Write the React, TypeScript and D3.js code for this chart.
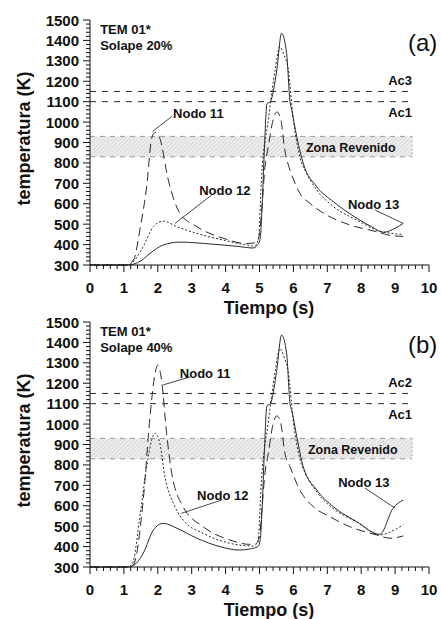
import React from "react";
import * as d3 from "d3";

// ---------- data ----------
const xTickValues = [0, 1, 2, 3, 4, 5, 6, 7, 8, 9, 10];
const yTickValues = [300, 400, 500, 600, 700, 800, 900, 1000, 1100, 1200, 1300, 1400, 1500];

// Panel (a) – Solape 20%
const tA11 = [0, 1.1, 1.3, 1.47, 1.67, 1.82, 1.92, 2.06, 2.31, 2.65, 3.15, 3.93, 4.62, 4.9, 5.0, 5.08, 5.15, 5.26, 5.4, 5.51, 5.62, 5.75, 5.9, 6.0, 6.19, 6.49, 6.98, 7.67, 8.46, 8.85, 9.24];
const vA11 = [300, 300, 330, 471, 683, 920, 950, 920, 716, 554, 488, 431, 405, 410, 450, 600, 760, 880, 1010, 1050, 1020, 860, 765, 720, 651, 602, 545, 496, 463, 445, 440];

const tA12 = [0, 1.1, 1.3, 1.57, 1.87, 2.16, 2.56, 3.15, 3.93, 4.62, 4.85, 4.97, 5.06, 5.26, 5.46, 5.6, 5.72, 5.85, 6.0, 6.19, 6.39, 6.69, 7.18, 7.87, 8.55, 9.24];
const vA12 = [300, 300, 320, 390, 488, 515, 488, 455, 422, 398, 392, 430, 732, 1010, 1255, 1369, 1330, 1255, 1010, 830, 749, 667, 586, 520, 466, 450];

const tA13 = [0, 1.1, 1.3, 1.5, 1.77, 2.16, 2.65, 3.54, 4.42, 4.8, 4.95, 5.02, 5.08, 5.14, 5.22, 5.32, 5.51, 5.65, 5.8, 5.9, 5.95, 6.1, 6.29, 6.69, 7.18, 7.87, 8.3, 8.65, 9.0, 9.24];
const vA13 = [300, 300, 305, 320, 357, 398, 412, 403, 390, 383, 400, 430, 600, 850, 1090, 1100, 1255, 1435, 1337, 1100, 1060, 928, 798, 683, 610, 529, 488, 460, 480, 504];

// Panel (b) – Solape 40%
const tB11 = [0, 1.15, 1.28, 1.57, 1.77, 1.92, 2.0, 2.11, 2.26, 2.41, 2.75, 3.34, 4.13, 4.7, 4.9, 5.0, 5.08, 5.15, 5.26, 5.4, 5.51, 5.62, 5.75, 5.9, 6.19, 6.59, 7.08, 7.67, 8.46, 8.85, 9.24];
const vB11 = [300, 300, 310, 628, 1036, 1249, 1289, 1216, 955, 759, 595, 497, 432, 411, 415, 450, 600, 742, 857, 1000, 1040, 1010, 857, 791, 677, 595, 546, 497, 457, 441, 452];

const tB12 = [0, 1.1, 1.25, 1.47, 1.67, 1.82, 1.92, 2.06, 2.21, 2.46, 2.75, 3.34, 4.13, 4.8, 4.95, 5.06, 5.26, 5.46, 5.6, 5.72, 5.85, 6.0, 6.19, 6.39, 6.69, 7.18, 7.87, 8.55, 8.9, 9.24];
const vB12 = [300, 300, 315, 546, 791, 922, 955, 906, 742, 612, 530, 465, 416, 403, 420, 732, 1010, 1255, 1370, 1330, 1255, 1010, 830, 749, 667, 586, 520, 457, 475, 506];

const tB13 = [0, 1.1, 1.3, 1.57, 1.87, 2.16, 2.56, 3.15, 3.83, 4.42, 4.7, 4.95, 5.02, 5.08, 5.14, 5.22, 5.32, 5.51, 5.65, 5.8, 5.9, 5.95, 6.1, 6.29, 6.69, 7.18, 7.87, 8.55, 8.94, 9.24];
const vB13 = [300, 300, 310, 367, 481, 514, 490, 441, 400, 383, 388, 400, 430, 600, 850, 1090, 1100, 1265, 1436, 1347, 1100, 1069, 938, 791, 677, 595, 522, 460, 588, 628];

// reference levels
const acUpper = 1150;
const acLower = 1100;
const revenidoLow = 830;
const revenidoHigh = 930;
const refEndTime = 9.5;

const panelLetters = ["(a)", "(b)"];
const solapeLabels = ["Solape 20%", "Solape 40%"];
const acUpperLabels = ["Ac3", "Ac2"];

// ---------- layout ----------
const W = 441;
const H = 619;
const X0 = 90;
const X1 = 429;
const PH = 245;
const panelTops = [20, 322];
const FONT = "'Liberation Sans', Arial, Helvetica, sans-serif";
const INK = "#2a2a2a";

type Annot = {
  text: string;
  tx: number;
  ty: number;
  lx1?: number;
  ly1?: number;
  lx2?: number;
  ly2?: number;
};

const annA: Annot[] = [
  { text: "Nodo 11", tx: 2.45, ty: 1022, lx1: 1.85, ly1: 955, lx2: 2.42, ly2: 1028 },
  { text: "Nodo 12", tx: 3.22, ty: 643, lx1: 2.51, ly1: 504, lx2: 3.59, ly2: 643 },
  { text: "Nodo 13", tx: 7.61, ty: 574, lx1: 8.41, ly1: 569, lx2: 9.24, ly2: 504 },
];
const annB: Annot[] = [
  { text: "Nodo 11", tx: 2.65, ty: 1226, lx1: 2.16, ly1: 1192, lx2: 2.95, ly2: 1231 },
  { text: "Nodo 12", tx: 3.16, ty: 628, lx1: 2.7, ly1: 563, lx2: 3.88, ly2: 628 },
  { text: "Nodo 13", tx: 7.32, ty: 692, lx1: 8.11, ly1: 687, lx2: 9.0, ly2: 588 },
];

type Series = { t: number[]; v: number[]; dash: string };

function Panel({ idx, series, ann }: { idx: number; series: Series[]; ann: Annot[] }) {
  const top = panelTops[idx];
  const bottom = top + PH;
  const x = d3.scaleLinear().domain([0, 10]).range([X0, X1]);
  const y = d3.scaleLinear().domain([300, 1500]).range([bottom, top]);
  const line = d3
    .line<[number, number]>()
    .x((d) => x(d[0]))
    .y((d) => y(d[1]))
    .curve(d3.curveMonotoneX);

  const xMinor = d3.range(0, 10.001, 0.2).filter((v) => Math.abs(v - Math.round(v)) > 0.01);
  const yMinor = d3.range(300, 1500.1, 20).filter((v) => v % 100 !== 0);
  const tickFont = { fontFamily: FONT, fontWeight: 700, fontSize: 15, fill: "#111" } as const;
  const labFont = { fontFamily: FONT, fontWeight: 700, fontSize: 13, fill: "#111" } as const;

  const leftX = x(0);
  const rightX = x(refEndTime);

  return (
    <g>
      {/* Revenido band */}
      <rect
        x={leftX}
        y={y(revenidoHigh)}
        width={rightX - leftX}
        height={y(revenidoLow) - y(revenidoHigh)}
        fill="url(#hatch)"
      />
      <line x1={leftX} x2={rightX} y1={y(revenidoHigh)} y2={y(revenidoHigh)} stroke="#999" strokeDasharray="5,5" />
      <line x1={leftX} x2={rightX} y1={y(revenidoLow)} y2={y(revenidoLow)} stroke="#999" strokeDasharray="5,5" />
      <line x1={rightX} x2={rightX} y1={y(revenidoHigh)} y2={y(revenidoLow)} stroke="#aaa" strokeDasharray="2,2" />
      {/* Ac lines */}
      <line x1={leftX} x2={rightX} y1={y(acUpper)} y2={y(acUpper)} stroke={INK} strokeDasharray="6,6" />
      <line x1={leftX} x2={rightX} y1={y(acLower)} y2={y(acLower)} stroke={INK} strokeDasharray="6,6" />

      {/* curves */}
      {series.map((s, i) => (
        <path
          key={i}
          d={line(s.t.map((t, j) => [t, s.v[j]] as [number, number])) || ""}
          fill="none"
          stroke={INK}
          strokeWidth={1}
          strokeDasharray={s.dash}
        />
      ))}

      {/* axes */}
      <line x1={X0} x2={X0} y1={top} y2={bottom} stroke="#111" />
      <line x1={X0} x2={X1} y1={bottom} y2={bottom} stroke="#111" />
      {yTickValues.map((v) => (
        <g key={"yt" + v}>
          <line x1={X0 - 7} x2={X0} y1={y(v)} y2={y(v)} stroke="#111" />
          <text x={X0 - 11} y={y(v) + 5.5} textAnchor="end" {...tickFont}>
            {v}
          </text>
        </g>
      ))}
      {yMinor.map((v) => (
        <line key={"ym" + v} x1={X0 - 4} x2={X0} y1={y(v)} y2={y(v)} stroke="#111" />
      ))}
      {xTickValues.map((v) => (
        <g key={"xt" + v}>
          <line x1={x(v)} x2={x(v)} y1={bottom} y2={bottom + 7} stroke="#111" />
          <text x={x(v)} y={bottom + 28} textAnchor="middle" {...tickFont}>
            {v}
          </text>
        </g>
      ))}
      {xMinor.map((v) => (
        <line key={"xm" + v.toFixed(1)} x1={x(v)} x2={x(v)} y1={bottom} y2={bottom + 4} stroke="#111" />
      ))}

      {/* titles */}
      <text
        transform={`translate(30,${(top + bottom) / 2 - 4}) rotate(-90)`}
        textAnchor="middle"
        fontFamily={FONT}
        fontWeight={700}
        fontSize={18}
        fill="#111"
      >
        temperatura (K)
      </text>
      <text x={269} y={bottom + 49} textAnchor="middle" fontFamily={FONT} fontWeight={700} fontSize={18} fill="#111">
        Tiempo (s)
      </text>

      {/* labels */}
      <text x={x(0.3)} y={top + 14} {...labFont}>
        TEM 01*
      </text>
      <text x={x(0.3)} y={top + 30} {...labFont}>
        {solapeLabels[idx]}
      </text>
      <text x={408} y={top + 31} fontFamily={FONT} fontSize={24} fill="#111">
        {panelLetters[idx]}
      </text>
      <text x={rightX} y={y(acUpper) - 6} textAnchor="end" {...labFont}>
        {acUpperLabels[idx]}
      </text>
      <text x={rightX} y={y(acLower) + 15} textAnchor="end" {...labFont}>
        Ac1
      </text>
      <text x={x(idx === 0 ? 6.37 : 6.43)} y={(y(revenidoHigh) + y(revenidoLow)) / 2 + 5} {...labFont} fontSize={12.5}>
        Zona Revenido
      </text>
      {ann.map((a, i) => (
        <g key={"an" + i}>
          <line x1={x(a.lx1!)} y1={y(a.ly1!)} x2={x(a.lx2!)} y2={y(a.ly2!)} stroke="#333" strokeWidth={0.9} />
          <text x={x(a.tx)} y={y(a.ty)} {...labFont}>
            {a.text}
          </text>
        </g>
      ))}
    </g>
  );
}

export default function App() {
  const longDash = "9,5";
  const dotted = "2,2";
  const seriesA: Series[] = [
    { t: tA11, v: vA11, dash: longDash },
    { t: tA12, v: vA12, dash: dotted },
    { t: tA13, v: vA13, dash: "" },
  ];
  const seriesB: Series[] = [
    { t: tB11, v: vB11, dash: longDash },
    { t: tB12, v: vB12, dash: dotted },
    { t: tB13, v: vB13, dash: "" },
  ];
  return (
    <svg
      width={W}
      height={H}
      viewBox={`0 0 ${W} ${H}`}
      style={{ position: "absolute", left: 0, top: 0, background: "#fff", display: "block" }}
    >
      <defs>
        <pattern id="hatch" width="3" height="3" patternUnits="userSpaceOnUse" patternTransform="rotate(45)">
          <rect width="3" height="3" fill="#eeeeee" />
          <line x1="0" y1="0" x2="0" y2="3" stroke="#b8b8b8" strokeWidth="0.8" />
        </pattern>
      </defs>
      <rect x={0} y={0} width={W} height={H} fill="#fff" />
      <Panel idx={0} series={seriesA} ann={annA} />
      <Panel idx={1} series={seriesB} ann={annB} />
    </svg>
  );
}
